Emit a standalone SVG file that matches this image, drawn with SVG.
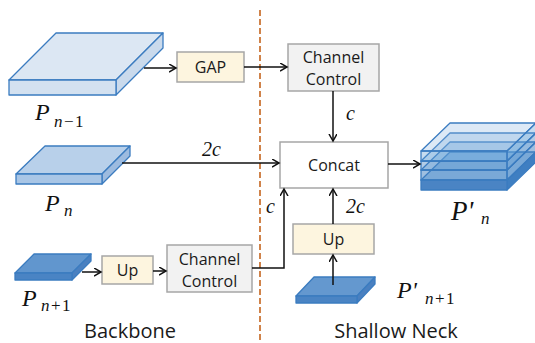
<svg xmlns="http://www.w3.org/2000/svg" width="535" height="343" viewBox="0 0 535 343">
<style>
.box{stroke:#a6a6a6;stroke-width:1.5}
.gap{fill:#fdf5df}
.cc{fill:#f2f2f2}
.cat{fill:#ffffff}
.lbl{font-family:"Open Sans","Liberation Sans",sans-serif;font-size:16px;fill:#1a1a1a;text-anchor:middle}
.sec{font-family:"Open Sans","Liberation Sans",sans-serif;font-size:20px;fill:#1a1a1a;text-anchor:middle}
.m{font-family:"Liberation Serif","DejaVu Serif",serif;font-style:italic;fill:#111}
.up{font-style:normal}
.big{font-size:24px}
.sub{font-size:17px;letter-spacing:1.5px}
.cl{font-size:20px}
.slab{stroke:#3b7cc0;stroke-width:1.3;stroke-linejoin:round}
.con{fill:none;stroke:#111;stroke-width:1.5}
</style>
<defs>
<marker id="ah" markerUnits="userSpaceOnUse" markerWidth="10" markerHeight="10" refX="7" refY="4" orient="auto">
<path d="M0,0 L7,4 L0,8" fill="none" stroke="#111" stroke-width="1.5"/>
</marker>
</defs>
<rect width="535" height="343" fill="#ffffff"/>
<line x1="260" y1="10" x2="260" y2="343" stroke="#d0834a" stroke-width="2" stroke-dasharray="6 3"/>

<g id="Pn_1">
<polygon class="slab" points="9,80 116,80 163,33 56,33" fill="#dce7f3"/>
<polygon class="slab" points="116,80 163,33 163,48 116,95" fill="#cadaec"/>
<rect class="slab" x="9" y="80" width="107" height="15" fill="#d3e1f0"/>
<text class="m big" x="35" y="120">P<tspan class="sub" x="54" y="127">n<tspan class="up">−1</tspan></tspan></text>
</g>

<g id="Pn">
<polygon class="slab" points="16,174 102,174 130,146 45,146" fill="#b8d0ea"/>
<polygon class="slab" points="102,174 130,146 130,156 102,184" fill="#9dbbdf"/>
<rect class="slab" x="16" y="174" width="86" height="10" fill="#a9c6e6"/>
<text class="m big" x="45" y="211">P<tspan class="sub" x="64" y="216">n</tspan></text>
</g>

<g id="Pn1">
<polygon class="slab" points="15,273 72,273 91,254 34,254" fill="#6196ce" stroke="#2e6fb5"/>
<polygon class="slab" points="72,273 91,254 91,261 72,280" fill="#4a80c0" stroke="#2e6fb5"/>
<rect class="slab" x="15" y="273" width="57" height="7" fill="#4a84c4" stroke="#2e6fb5"/>
<text class="m big" x="22" y="306">P<tspan class="sub" x="41" y="311">n<tspan class="up">+1</tspan></tspan></text>
</g>

<g id="GAP">
<rect class="box gap" x="177" y="52" width="67" height="30"/>
<text class="lbl" x="210.5" y="73">GAP</text>
</g>

<g id="CC1">
<rect class="box cc" x="288" y="44" width="91" height="47"/>
<text class="lbl" x="333.5" y="63">Channel</text>
<text class="lbl" x="333.5" y="85">Control</text>
</g>

<g id="Concat">
<rect class="box cat" x="280" y="142" width="108" height="46"/>
<text class="lbl" x="334" y="170.5">Concat</text>
</g>

<g id="Up1">
<rect class="box gap" x="102" y="256" width="51" height="28"/>
<text class="lbl" x="127.5" y="276">Up</text>
</g>

<g id="CC2">
<rect class="box cc" x="167" y="245" width="85" height="47"/>
<text class="lbl" x="209.5" y="264.5">Channel</text>
<text class="lbl" x="209.5" y="286.5">Control</text>
</g>

<g id="Up2">
<rect class="box gap" x="293" y="224" width="81" height="30"/>
<text class="lbl" x="333.5" y="245">Up</text>
</g>

<g id="Pp_n1">
<polygon class="slab" points="296,296 357,296 375,277 314,277" fill="#6498cf" stroke="#2e6fb5"/>
<polygon class="slab" points="357,296 375,277 375,284 357,303" fill="#4a80c0" stroke="#2e6fb5"/>
<rect class="slab" x="296" y="296" width="61" height="7" fill="#4a84c4" stroke="#2e6fb5"/>
<text class="m big" x="397" y="298">P'<tspan class="sub" x="425" y="304">n<tspan class="up">+1</tspan></tspan></text>
</g>

<g id="Pp_n">
<polygon class="slab" points="421,180 507,180 536,152 450,152" fill="#5b9bd5" fill-opacity="0.45"/>
<polygon class="slab" points="507,180 536,152 536,162 507,190" fill="#3f7fc2"/>
<rect class="slab" x="421" y="180" width="86" height="10" fill="#4a84c4"/>
<polygon class="slab" points="421,170 507,170 536,142 450,142" fill="#5b9bd5" fill-opacity="0.3"/>
<polygon class="slab" points="507,170 536,142 536,152 507,180" fill="#3f7fc2" fill-opacity="0.5"/>
<rect class="slab" x="421" y="170" width="86" height="10" fill="#3f7fc2" fill-opacity="0.5"/>
<polygon class="slab" points="421,161 507,161 536,133 450,133" fill="#5b9bd5" fill-opacity="0.25"/>
<polygon class="slab" points="507,161 536,133 536,142 507,170" fill="#3f7fc2" fill-opacity="0.4"/>
<rect class="slab" x="421" y="161" width="86" height="9" fill="#3f7fc2" fill-opacity="0.4"/>
<polygon class="slab" points="421,151 507,151 536,123 450,123" fill="#8fb6e0" fill-opacity="0.3"/>
<polygon class="slab" points="507,151 536,123 536,133 507,161" fill="#5b9bd5" fill-opacity="0.35"/>
<rect class="slab" x="421" y="151" width="86" height="10" fill="#5b9bd5" fill-opacity="0.35"/>
<text class="m" font-size="27" x="451" y="220">P'<tspan class="sub" font-size="19" x="481" y="224">n</tspan></text>
</g>

<g id="labels">
<text class="sec" x="130" y="338">Backbone</text>
<text class="sec" x="396" y="338">Shallow Neck</text>
</g>

<g id="connectors">
<path class="con" d="M144,68 H176" marker-end="url(#ah)"/>
<path class="con" d="M244,67 H287" marker-end="url(#ah)"/>
<path class="con" d="M333,91 V141" marker-end="url(#ah)"/>
<path class="con" d="M122,163 H279" marker-end="url(#ah)"/>
<path class="con" d="M82,272 H101" marker-end="url(#ah)"/>
<path class="con" d="M153,271 H166" marker-end="url(#ah)"/>
<path class="con" d="M252,268 H284 V189" marker-end="url(#ah)"/>
<path class="con" d="M333,224 V189" marker-end="url(#ah)"/>
<path class="con" d="M333,285 V255" marker-end="url(#ah)"/>
<path class="con" d="M388,164 H420" marker-end="url(#ah)"/>
<text class="m cl" x="346" y="120">c</text>
<text class="m cl" x="202" y="156">2c</text>
<text class="m cl" x="266" y="213">c</text>
<text class="m cl" x="346" y="213">2c</text>
</g>
</svg>
